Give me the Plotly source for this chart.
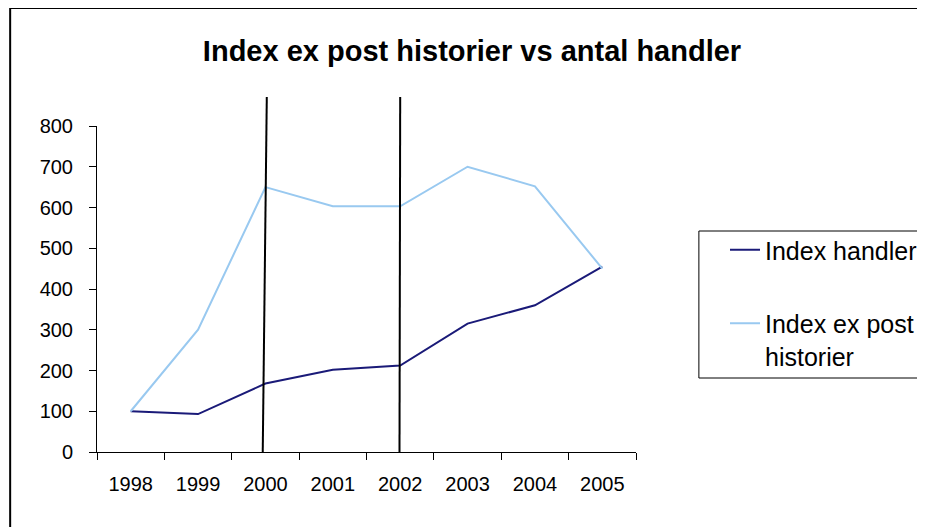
import plotly.graph_objects as go

# Values
years = ["1998", "1999", "2000", "2001", "2002", "2003", "2004", "2005"]
index_handler = [100, 93, 168, 202, 212, 315, 360, 455]
index_ex_post = [100, 300, 650, 603, 603, 700, 652, 450]

# Marker lines drawn by hand in the original (category index, slightly tilted)
marker_lines = [(2.02, 1.96), (4.0, 3.99)]

FONT = "Arial, Liberation Sans, sans-serif"
W, H = 925, 527
OFF = 8  # the page body margin shifts the figure by 8px
# plot area in screen pixels: x 97..637, y 126..452
L, T = 97 - OFF, 126 - OFF
R, B = W - (637 - OFF), H - (452 - OFF)
PW, PH = W - L - R, H - T - B


def paper_x(px):
    return (px - OFF - L) / PW


def paper_y(py):
    return (H - B - (py - OFF)) / PH


fig = go.Figure()
fig.add_trace(go.Scatter(
    x=years, y=index_handler, mode="lines", name="Index handler",
    line=dict(color="#1a1a78", width=2), legendgroup="a",
))
fig.add_trace(go.Scatter(
    x=years, y=index_ex_post, mode="lines", name="Index ex post<br>historier",
    line=dict(color="#99c9f0", width=2), legendgroup="b",
))

for top_x, bottom_x in marker_lines:
    fig.add_shape(
        type="line", xref="x", yref="paper",
        x0=bottom_x, y0=0, x1=top_x, y1=paper_y(97),
        line=dict(color="black", width=2),
    )

# outer chart frame (runs past the window on right and bottom)
fig.add_shape(
    type="rect", xref="paper", yref="paper",
    x0=paper_x(10), x1=paper_x(960),
    y0=paper_y(560), y1=paper_y(8),
    line=dict(color="black", width=2),
)
# legend box (cut by the right edge in the original)
fig.add_shape(
    type="rect", xref="paper", yref="paper",
    x0=paper_x(700), x1=paper_x(960),
    y0=paper_y(378), y1=paper_y(231),
    line=dict(color="black", width=1),
)

fig.update_layout(
    width=W, height=H,
    margin=dict(l=L, r=R, t=T, b=B),
    paper_bgcolor="white", plot_bgcolor="white",
    font=dict(family=FONT, size=20, color="black"),
    title=dict(
        text="<b>Index ex post historier vs antal handler</b>",
        x=(472 - OFF) / W, xref="container", xanchor="center",
        y=(H - (51 - OFF)) / H, yref="container", yanchor="middle",
        font=dict(size=29, family=FONT),
    ),
    showlegend=True,
    legend=dict(
        x=paper_x(725), xanchor="left",
        y=paper_y(227), yanchor="top",
        bgcolor="rgba(0,0,0,0)", borderwidth=0,
        font=dict(size=25, family=FONT),
        traceorder="grouped", tracegroupgap=38, valign="top",
    ),
    xaxis=dict(
        type="category", tickson="boundaries", range=[-0.5, 7.5],
        showline=True, linecolor="black", linewidth=1,
        ticks="outside", ticklen=7, tickcolor="black",
        showgrid=False, zeroline=False, fixedrange=True,
        ticklabelstandoff=14,
    ),
    yaxis=dict(
        range=[0, 800], tickvals=list(range(0, 801, 100)),
        showline=True, linecolor="black", linewidth=1,
        ticks="outside", ticklen=7, tickcolor="black",
        showgrid=False, zeroline=False, fixedrange=True,
        ticklabelstandoff=12,
    ),
)

fig.write_html("out.html")
